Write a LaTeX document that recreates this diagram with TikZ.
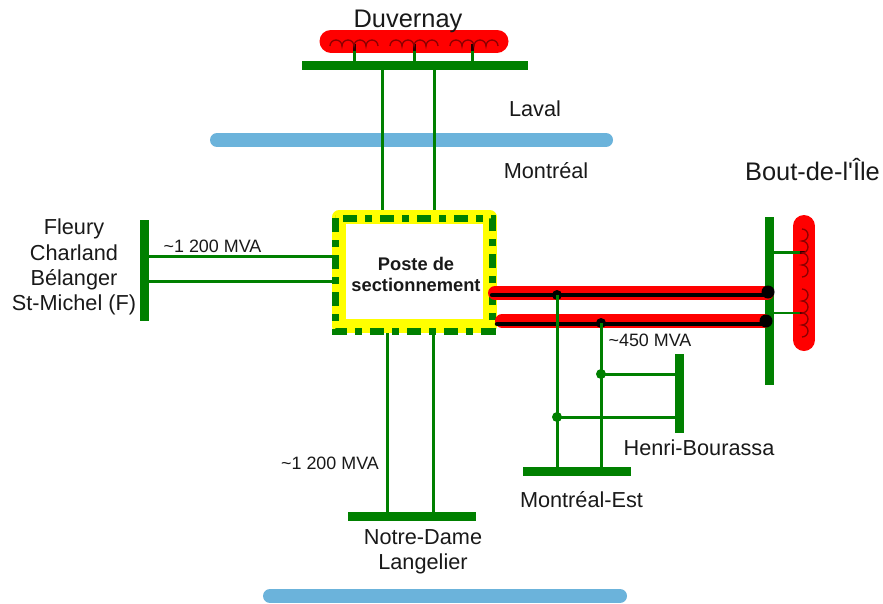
\documentclass[tikz,border=0pt]{standalone}
\usepackage{fontspec}
\setmainfont{Liberation Sans}
\definecolor{busgreen}{HTML}{008000}
\definecolor{riverblue}{HTML}{6BB3DB}
\definecolor{coilred}{HTML}{8B0000}
\tikzset{
  label22/.style={font=\fontsize{21.7}{26}\selectfont,inner sep=0pt,text=black!90,anchor=base},
  label25/.style={font=\fontsize{25.4}{29}\selectfont,inner sep=0pt,text=black!90,anchor=base},
  mva/.style={font=\fontsize{17.9}{21}\selectfont,inner sep=0pt,text=black!90,anchor=base},
  busbar/.style={fill=busgreen,inner sep=0pt,outer sep=0pt,rectangle},
  feeder/.style={draw=busgreen,line width=3pt},
  river/.style={draw=riverblue,line width=14pt,line cap=round},
  hot/.style={draw=red,line width=14pt,line cap=round},
  hotcore/.style={draw=black,line width=4.5pt,line cap=round},
  pill/.style={draw=red,line cap=round},
  coil/.style={draw=coilred,line width=1.3pt},
  tiedot/.style={circle,inner sep=0pt,minimum size=10pt},
  stub/.style={draw=busgreen,line width=3pt},
  stubend/.style={draw=black!85!red,line width=3pt}
}
\begin{document}
\begin{tikzpicture}[x=1pt,y=-1pt]
\useasboundingbox (0,0) rectangle (883,603);
% rivers
\coordinate (ra) at (217,140); \coordinate (rb) at (606,140);
\coordinate (rc) at (270,596); \coordinate (rd) at (620,596);
\draw[river] (ra) -- (rb);
\draw[river] (rc) -- (rd);
% reactors (red pills)
\coordinate (dpa) at (331,41); \coordinate (dpb) at (497,41);
\draw[pill,line width=23pt] (dpa) -- (dpb);
\coordinate (bpa) at (804,226); \coordinate (bpb) at (804,340);
\draw[pill,line width=22pt] (bpa) -- (bpb);
% bus bars
\node[busbar,minimum width=226pt,minimum height=9pt] (duvbar) at (415,65.5) {};
\node[busbar,minimum width=9pt,minimum height=168pt] (boutbar) at (769.5,301) {};
\node[busbar,minimum width=9pt,minimum height=101pt] (fleurybar) at (144.5,270.5) {};
\node[busbar,minimum width=128pt,minimum height=9pt] (ndbar) at (412,516.5) {};
\node[busbar,minimum width=108pt,minimum height=9pt] (mebar) at (577,471.5) {};
\node[busbar,minimum width=9pt,minimum height=79pt] (hbbar) at (679.5,393.5) {};
% central station
\node[rectangle,minimum width=157pt,minimum height=113pt,inner sep=0pt,outer sep=0pt] (poste) at (413.5,274.5) {};
% feeders
\coordinate (t1) at (382,66); \coordinate (t2) at (434,66);
\draw[feeder] (t1) -- (t1 |- poste.north);
\draw[feeder] (t2) -- (t2 |- poste.north);
\coordinate (l1) at (145,256); \coordinate (l2) at (145,281);
\draw[feeder] (l1) -- (l1 -| poste.west);
\draw[feeder] (l2) -- (l2 -| poste.west);
\coordinate (b1) at (387,516); \coordinate (b2) at (433,516);
\draw[feeder] (b1) -- (b1 |- poste.south);
\draw[feeder] (b2) -- (b2 |- poste.south);
% station outline
\coordinate (ya) at (339,217); \coordinate (yb) at (490,326);
\draw[draw={rgb,255:red,255;green,255;blue,0},line width=13.5pt,line join=round] (ya) rectangle (yb);
\draw[busgreen,line width=7pt,dash pattern=on 14pt off 8pt on 7pt off 8pt] (poste.north west) rectangle (poste.south east);
\node[inner sep=0pt,align=center,font=\bfseries\fontsize{18.3}{21}\selectfont,text=black!90] (postelabel) at (416,274.5) {Poste de\\sectionnement};
% Duvernay stubs and coils
\foreach \n/\x in {a/354,b/414,c/472}{
  \coordinate (ds\n) at (\x,44);
  \draw[stub] (ds\n) -- (ds\n |- duvbar.north);
  \draw[stubend] (ds\n) -- +(0,7);
}
\foreach \n/\x in {a/330,b/390,c/450}{
  \coordinate (dc\n) at (\x,46);
  \draw[coil] (dc\n) arc[start angle=180,end angle=0,radius=6pt]
     arc[start angle=180,end angle=0,radius=6pt]
     arc[start angle=180,end angle=0,radius=6pt]
     arc[start angle=180,end angle=0,radius=6pt];
}
% Bout-de-l'Ile stubs and coils
\foreach \n/\y in {a/252.5,b/313}{
  \coordinate (bs\n) at (800,\y);
  \draw[draw=busgreen,line width=2.6pt] (bs\n) -- (bs\n -| boutbar.east);
  \draw[stubend,line width=2.6pt] (bs\n) -- +(5,0);
}
\foreach \n/\y in {a/229,b/289}{
  \coordinate (bc\n) at (802,\y);
  \draw[coil] (bc\n) arc[start angle=90,end angle=-90,radius=6pt]
     arc[start angle=90,end angle=-90,radius=6pt]
     arc[start angle=90,end angle=-90,radius=6pt]
     arc[start angle=90,end angle=-90,radius=6pt];
}
% double line to Bout-de-l'Ile
\coordinate (ha) at (495,293); \coordinate (hb) at (767,293);
\coordinate (hc) at (502,321); \coordinate (hd) at (764,321);
\draw[hot] (ha) -- (hb);
\draw[hot] (hc) -- (hd);
\coordinate (ka) at (492,295); \coordinate (kb) at (768,295);
\coordinate (kc) at (497,324); \coordinate (kd) at (766,324);
\draw[hotcore] (ka) -- (kb);
\draw[hotcore] (kc) -- (kd);
\node[tiedot,fill=black,minimum size=13pt] (ke) at (768,292) {};
\node[tiedot,fill=black,minimum size=13pt] (kf) at (766,321) {};
% taps
\node[tiedot,fill=black] (j1) at (557,295) {};
\node[tiedot,fill=black] (j2) at (601,323) {};
\node[tiedot,fill=busgreen] (j3) at (601,374) {};
\node[tiedot,fill=busgreen] (j4) at (557,417) {};
\draw[feeder] (j1.center) -- (j1 |- mebar.north);
\draw[feeder] (j2.center) -- (j2 |- mebar.north);
\draw[feeder] (j3.center) -- (j3 -| hbbar.west);
\draw[feeder] (j4.center) -- (j4 -| hbbar.west);
% labels
\node[label25] (tduv) at (408,27) {Duvernay};
\node[label22] (tlav) at (535,116) {Laval};
\node[label22] (tmtl) at (546,178) {Montréal};
\node[label25] (tbout) at (812.5,180) {Bout-de-l\textquotesingle Île};
\node[label22] (tf1) at (74,234.5) {Fleury};
\node[label22] (tf2) at (74,260) {Charland};
\node[label22] (tf3) at (74,285) {Bélanger};
\node[label22] (tf4) at (74,310.5) {St-Michel (F)};
\node[mva] (m1) at (212.5,252) {\textasciitilde 1 200 MVA};
\node[mva] (m2) at (330,469) {\textasciitilde 1 200 MVA};
\node[mva] (m3) at (650,346) {\textasciitilde 450 MVA};
\node[label22] (tnd) at (423,544) {Notre-Dame};
\node[label22] (tla) at (423,569) {Langelier};
\node[label22] (thb) at (699,455) {Henri-Bourassa};
\node[label22] (tme) at (581.5,507) {Montréal-Est};
\end{tikzpicture}
\end{document}
